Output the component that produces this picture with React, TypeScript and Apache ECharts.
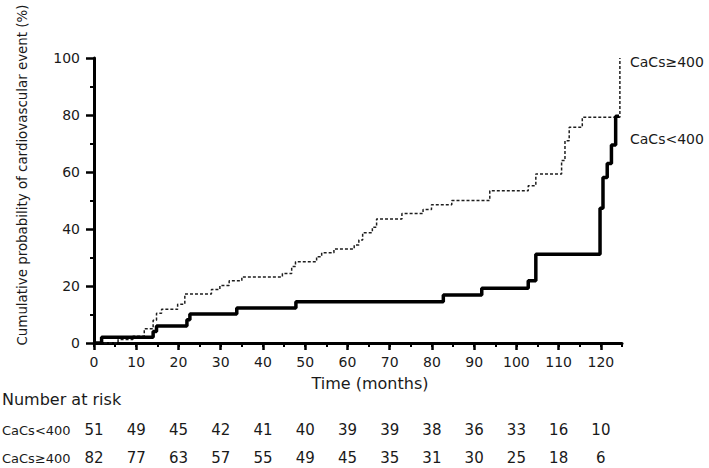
import React, { useEffect, useRef } from 'react';
import * as echarts from 'echarts';

// ---- data ----
const xMax = 125;
const xLabelMax = 120;
const yMax = 100;

const groupLabels = ['CaCs<400', 'CaCs\u2265400'];

// CaCs<400 (solid) : event times (months) and cumulative probability (%)
const lowTimes = [0, 1.8, 14.0, 14.8, 22.0, 22.7, 33.8, 47.8, 82.7, 91.8, 102.8, 104.6, 119.8, 120.5, 121.5, 122.5, 123.5, 124.3];
const lowPct = [0, 2.0, 4.0, 6.0, 8.2, 10.2, 12.3, 14.5, 16.8, 19.2, 21.8, 31.1, 47.3, 58.1, 63.0, 69.5, 79.6, 79.6];

// CaCs>=400 (dashed)
const highTimes = [0, 5.7, 9.2, 11.9, 14.0, 14.8, 16.0, 19.8, 21.5, 27.8, 29.8, 32.0, 35.0, 44.6, 46.8, 47.7, 52.7, 53.9, 56.8, 61.6, 62.7, 63.6, 65.9, 66.9, 72.9, 77.9, 79.9, 84.7, 93.7, 102.8, 104.6, 110.7, 111.5, 112.5, 115.6, 124.5];
const highPct = [0, 1.2, 2.4, 5.0, 8.0, 10.4, 11.8, 13.6, 17.2, 18.8, 20.2, 21.8, 23.2, 24.4, 26.8, 28.5, 30.3, 31.7, 33.0, 34.4, 36.1, 38.7, 40.6, 43.5, 45.4, 46.8, 48.5, 50.0, 53.4, 55.2, 59.3, 64.0, 71.0, 75.7, 79.2, 100];

// Number at risk, at 0,10,...,120 months
const riskLow = [51, 49, 45, 42, 41, 40, 39, 39, 38, 36, 33, 16, 10];
const riskHigh = [82, 77, 63, 57, 55, 49, 45, 35, 31, 30, 25, 18, 6];

const FONT = 'DejaVu Sans';
const TXT = '#1a1a1a';

const GRID_LEFT = 94;
const GRID_W = 528;
const GRID_TOP = 58;
const GRID_H = 285;
const LABEL_W = (GRID_W * xLabelMax) / xMax;

export default function App() {
  const ref = useRef<HTMLDivElement>(null);

  useEffect(() => {
    if (!ref.current) return;
    const chart = echarts.init(ref.current, undefined, { renderer: 'svg' });

    const riskAxis = (gridIndex: number, values: number[]) => ({
      type: 'value',
      gridIndex,
      min: 0,
      max: xLabelMax,
      interval: 10,
      axisLine: { show: false },
      axisTick: { show: false },
      splitLine: { show: false },
      axisLabel: {
        margin: 0,
        verticalAlign: 'middle',
        fontFamily: FONT,
        fontSize: 15,
        color: TXT,
        formatter: (v: number) => {
          const i = Math.round(v / 10);
          return values[i] !== undefined ? String(values[i]) : '';
        },
      },
    });

    const hiddenY = (gridIndex: number) => ({
      type: 'value',
      gridIndex,
      show: false,
      min: 0,
      max: 1,
    });

    chart.setOption({
      animation: false,
      grid: [
        { left: GRID_LEFT, top: GRID_TOP, width: GRID_W, height: GRID_H },
        { left: GRID_LEFT, top: GRID_TOP, width: LABEL_W, height: GRID_H },
        { left: GRID_LEFT, top: 429, width: LABEL_W, height: 1 },
        { left: GRID_LEFT, top: 457, width: LABEL_W, height: 1 },
      ],
      xAxis: [
        // axis line + minor ticks every 5 months
        {
          type: 'value',
          gridIndex: 0,
          min: 0,
          max: xMax,
          interval: 5,
          axisLine: { show: true, lineStyle: { color: '#000', width: 3 } },
          axisTick: { show: true, length: 4, lineStyle: { color: '#000', width: 2 } },
          axisLabel: { show: false },
          splitLine: { show: false },
        },
        // major ticks + labels 0..120
        {
          type: 'value',
          gridIndex: 1,
          min: 0,
          max: xLabelMax,
          interval: 10,
          axisLine: { show: false },
          axisTick: { show: true, length: 7, lineStyle: { color: '#000', width: 2.5 } },
          axisLabel: { margin: 12, fontFamily: FONT, fontSize: 14, color: TXT },
          splitLine: { show: false },
        },
        riskAxis(2, riskLow),
        riskAxis(3, riskHigh),
      ],
      yAxis: [
        {
          type: 'value',
          gridIndex: 0,
          min: 0,
          max: yMax,
          interval: 20,
          axisLine: { show: true, lineStyle: { color: '#000', width: 3 } },
          axisTick: { show: true, length: 8, lineStyle: { color: '#000', width: 2.5 } },
          minorTick: { show: true, splitNumber: 2, length: 4, lineStyle: { color: '#000', width: 2 } },
          axisLabel: { margin: 14, fontFamily: FONT, fontSize: 14, color: TXT },
          splitLine: { show: false },
          minorSplitLine: { show: false },
        },
        hiddenY(1),
        hiddenY(2),
        hiddenY(3),
      ],
      series: [
        {
          name: groupLabels[1],
          type: 'line',
          xAxisIndex: 0,
          yAxisIndex: 0,
          step: 'end',
          symbol: 'none',
          data: highTimes.map((t, i) => [t, highPct[i]]),
          lineStyle: { color: '#1e1e1e', width: 1.5, type: [3, 2] },
        },
        {
          name: groupLabels[0],
          type: 'line',
          xAxisIndex: 0,
          yAxisIndex: 0,
          step: 'end',
          symbol: 'none',
          data: lowTimes.map((t, i) => [t, lowPct[i]]),
          lineStyle: { color: '#000', width: 3.5 },
        },
      ],
      graphic: [
        {
          type: 'text',
          x: 22,
          y: 175,
          rotation: Math.PI / 2,
          style: {
            text: 'Cumulative probability of cardiovascular event (%)',
            font: `13.4px ${FONT}`,
            fill: TXT,
            align: 'center',
            verticalAlign: 'middle',
          },
        },
        {
          type: 'text',
          x: 370,
          y: 383,
          style: { text: 'Time (months)', font: `16px ${FONT}`, fill: TXT, align: 'center', verticalAlign: 'middle' },
        },
        {
          type: 'text',
          x: 2,
          y: 399,
          style: { text: 'Number at risk', font: `16px ${FONT}`, fill: TXT, align: 'left', verticalAlign: 'middle' },
        },
        {
          type: 'text',
          x: 2,
          y: 430,
          style: { text: groupLabels[0], font: `13px ${FONT}`, fill: TXT, align: 'left', verticalAlign: 'middle' },
        },
        {
          type: 'text',
          x: 2,
          y: 458,
          style: { text: groupLabels[1], font: `13px ${FONT}`, fill: TXT, align: 'left', verticalAlign: 'middle' },
        },
        {
          type: 'text',
          x: 630,
          y: 62,
          style: { text: groupLabels[1], font: `14px ${FONT}`, fill: TXT, align: 'left', verticalAlign: 'middle' },
        },
        {
          type: 'text',
          x: 630,
          y: 139,
          style: { text: groupLabels[0], font: `14px ${FONT}`, fill: TXT, align: 'left', verticalAlign: 'middle' },
        },
      ],
    });

    return () => {
      chart.dispose();
    };
  }, []);

  return (
    <div
      ref={ref}
      style={{ position: 'fixed', left: 0, top: 0, width: 709, height: 468, background: '#fff' }}
    />
  );
}
